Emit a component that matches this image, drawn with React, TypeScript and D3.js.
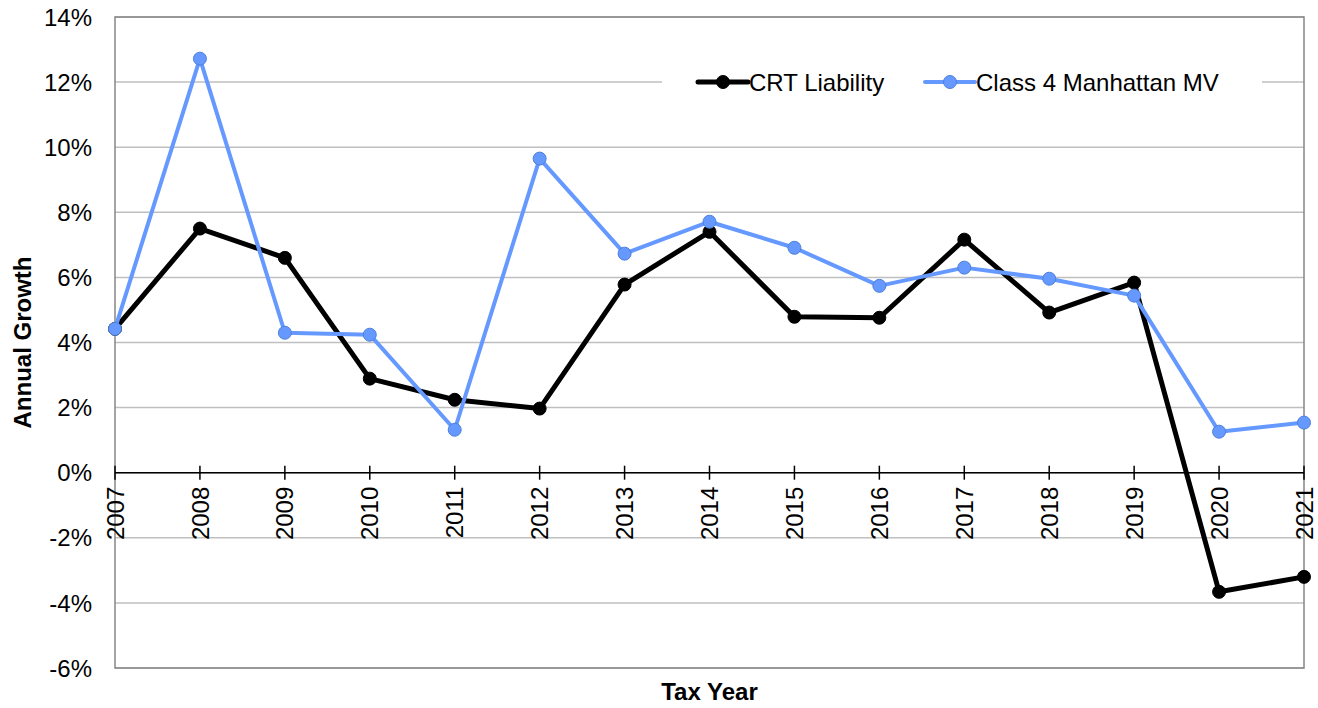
import * as d3 from 'd3'

const years = ['2007', '2008', '2009', '2010', '2011', '2012', '2013', '2014', '2015', '2016', '2017', '2018', '2019', '2020', '2021']
const crtLiability = [4.42, 7.5, 6.6, 2.89, 2.24, 1.97, 5.78, 7.4, 4.79, 4.76, 7.16, 4.92, 5.84, -3.66, -3.2]
const class4MV = [4.42, 12.72, 4.3, 4.24, 1.32, 9.65, 6.73, 7.71, 6.91, 5.74, 6.3, 5.96, 5.44, 1.26, 1.54]
const yTicks = [-6, -4, -2, 0, 2, 4, 6, 8, 10, 12, 14]

const W = 1318
const H = 708
const LEFT = 115
const RIGHT = 1304
const TOP = 17
const BOTTOM = 668
const FONT = 'Liberation Sans, Arial, sans-serif'
const BLUE = '#6699FF'

export default function App() {
  const x = d3.scalePoint<string>().domain(years).range([LEFT, RIGHT])
  const y = d3.scaleLinear().domain([-6, 14]).range([BOTTOM, TOP])

  const line = d3
    .line<number>()
    .x((_, i) => x(years[i]) as number)
    .y((d) => y(d))

  const series = [
    { name: 'CRT Liability', values: crtLiability, color: '#000000', stroke: '#000000', width: 5, lx: 698 },
    { name: 'Class 4 Manhattan MV', values: class4MV, color: BLUE, stroke: '#4F7FD9', width: 4, lx: 925 },
  ]

  return (
    <svg width={W} height={H} style={{ position: 'absolute', left: 0, top: 0 }} fontFamily={FONT}>
      <rect width={W} height={H} fill="white" />

      {/* Gridlines */}
      {yTicks.map((t) => (
        <line key={t} x1={LEFT} x2={RIGHT} y1={y(t)} y2={y(t)} stroke="#BFBFBF" strokeWidth={1.5} />
      ))}

      {/* Plot border */}
      <rect x={LEFT} y={TOP} width={RIGHT - LEFT} height={BOTTOM - TOP} fill="none" stroke="#868686" strokeWidth={1.5} />

      {/* Legend background */}
      <rect x={662} y={64} width={600} height={38} fill="white" />

      {/* Zero axis with ticks */}
      <line x1={LEFT} x2={RIGHT} y1={y(0)} y2={y(0)} stroke="#000" strokeWidth={1.5} />
      {years.map((yr) => (
        <line key={yr} x1={x(yr)} x2={x(yr)} y1={y(0) - 7} y2={y(0) + 7} stroke="#000" strokeWidth={1.5} />
      ))}

      {/* Y tick labels */}
      {yTicks.map((t) => (
        <text key={t} x={92} y={y(t)} dy="0.36em" textAnchor="end" fontSize={24} fill="#000">
          {t}%
        </text>
      ))}

      {/* X tick labels */}
      {years.map((yr) => (
        <text
          key={yr}
          transform={`translate(${x(yr)},${y(0) + 14}) rotate(-90)`}
          textAnchor="end"
          dy="0.36em"
          fontSize={24}
          fill="#000"
        >
          {yr}
        </text>
      ))}

      {/* Series */}
      {series.map((s) => (
        <g key={s.name}>
          <path d={line(s.values) ?? ''} fill="none" stroke={s.color} strokeWidth={s.width} strokeLinejoin="round" />
          {s.values.map((v, i) => (
            <circle key={i} cx={x(years[i])} cy={y(v)} r={6.5} fill={s.color} stroke={s.stroke} strokeWidth={1} />
          ))}
        </g>
      ))}

      {/* Legend */}
      {series.map((s) => (
        <g key={s.name}>
          <line x1={s.lx} x2={s.lx + 50} y1={82} y2={82} stroke={s.color} strokeWidth={s.width} strokeLinecap="round" />
          <circle cx={s.lx + 25} cy={82} r={6.5} fill={s.color} stroke={s.stroke} strokeWidth={1} />
          <text x={s.lx + 51} y={82} dy="0.36em" fontSize={24} fill="#000">
            {s.name}
          </text>
        </g>
      ))}

      {/* Axis titles */}
      <text
        transform={`translate(22,${(TOP + BOTTOM) / 2}) rotate(-90)`}
        textAnchor="middle"
        dy="0.36em"
        fontSize={24}
        fontWeight="bold"
      >
        Annual Growth
      </text>
      <text x={(LEFT + RIGHT) / 2} y={700} textAnchor="middle" fontSize={24} fontWeight="bold">
        Tax Year
      </text>
    </svg>
  )
}
